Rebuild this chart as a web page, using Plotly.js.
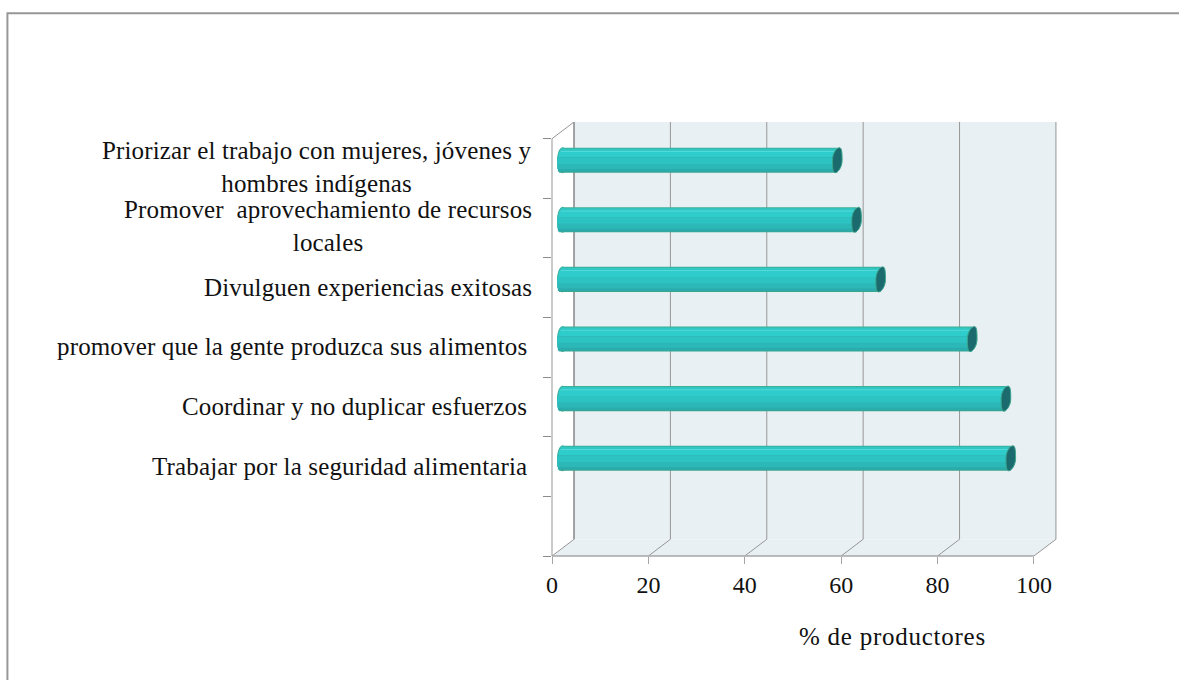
<!DOCTYPE html>
<html><head><meta charset="utf-8">
<script src="https://cdn.plot.ly/plotly-3.0.1.min.js"></script>
<style>html,body{margin:0;padding:0;background:#fff}
.annotation-text{letter-spacing:0.15px}</style></head>
<body><div id="c" style="width:1179px;height:680px"></div>
<script>
var categories = ["Trabajar por la seguridad alimentaria","Coordinar y no duplicar esfuerzos","promover que la gente produzca sus alimentos","Divulguen experiencias exitosas","Promover  aprovechamiento de recursos<br>locales","Priorizar el trabajo con mujeres, jóvenes y<br>hombres indígenas"];
var categoryRows = [1,2,3,4,5,6];
var values = [93,92,85,66,61,57];
var xTicks = [0,20,40,60,80,100];
var xTitle = "% de productores";

var FONT = '"Liberation Serif","Times New Roman",serif';
var W = 1179, H = 680, mL = 552.3, mR = 120.5, mT = 121.7, mB = 124.3;
var pw = W-mL-mR, ph = H-mT-mB;
var depthX = 4.57, depthY = 0.28;
var barMid = 2.2, barShift = 0.14, barH = 0.42, capA = 1.0, leftA = 1.05, capSkew = 0.45;
var yBottom = -0.5, yTop = 6.5;
var GRID = '#969696', WALL = '#e9f0f4';

// cylinder shading, painted outermost band first so neighbouring bands overlap without seams
var stripes = [
 {t:-1.00,b:0,m:-0.96,c:'#3fae97'},
 {t:-0.92,b:0,m:-0.83,c:'#2fc8c4'},
 {t:-0.74,b:0,m:-0.70,c:'#55d8d8'},
 {t:-0.66,b:0,m:-0.43,c:'#2fcccc'},
 {t:-0.20,b:1.00,m:0.96,c:'#3aa58c'},
 {t:-0.20,b:0.93,m:0.81,c:'#2bacac'},
 {t:-0.20,b:0.70,m:0.50,c:'#2db8b8'},
 {t:-0.20,b:0.30,m:0.05,c:'#2ec3c3'}
];

var traces = stripes.map(function(s){
  var inset = leftA*(1-Math.sqrt(Math.max(0,1-s.m*s.m)));
  var left = barMid-leftA+inset-s.m*capSkew;
  return {
    type:'bar', orientation:'h', hoverinfo:'skip', showlegend:false,
    y:categoryRows,
    x:values.map(function(v){return v+barMid-left;}),
    base:values.map(function(){return left;}),
    width:(s.b-s.t)*barH/2,
    offset:barShift-s.b*barH/2,
    marker:{color:s.c,line:{width:0}}
  };
});

var shapes = [];
shapes.push({type:'rect',layer:'below',xref:'x',yref:'y',x0:depthX,x1:100+depthX,y0:yBottom+depthY,y1:yTop+depthY,fillcolor:WALL,line:{width:0}});
shapes.push({type:'path',layer:'below',xref:'x',yref:'y',
  path:'M 0 '+yBottom+' L 100 '+yBottom+' L '+(100+depthX)+' '+(yBottom+depthY)+' L '+depthX+' '+(yBottom+depthY)+' Z',fillcolor:WALL,line:{width:0}});
xTicks.forEach(function(v){
  shapes.push({type:'line',layer:'below',xref:'x',yref:'y',x0:v+depthX,x1:v+depthX,y0:yBottom+depthY,y1:yTop+depthY,line:{color:v===0?'#858585':GRID,width:v===0?1.5:1}});
  shapes.push({type:'line',layer:'below',xref:'x',yref:'y',x0:v,x1:v+depthX,y0:yBottom,y1:yBottom+depthY,line:{color:GRID,width:1}});
});
shapes.push({type:'line',layer:'below',xref:'x',yref:'y',x0:0,x1:depthX,y0:yTop,y1:yTop+depthY,line:{color:GRID,width:1}});
shapes.push({type:'line',layer:'above',xref:'x',yref:'paper',x0:0,x1:100,y0:0,y1:0,line:{color:'#a6a6a6',width:1.5}});
shapes.push({type:'line',layer:'above',xref:'paper',yref:'y',x0:0,x1:0,y0:yBottom,y1:yTop,line:{color:GRID,width:1}});

var fx0 = (7.5-mL)/pw, fx1 = (W+2-mL)/pw, fyT = (H-mB-13)/ph, fyB = (H-mB-H-2)/ph;
shapes.push({type:'path',layer:'above',xref:'paper',yref:'paper',
  path:'M '+fx0+' '+fyB+' L '+fx0+' '+fyT+' L '+fx1+' '+fyT,line:{color:'#979797',width:2}});

values.forEach(function(v,i){
  var yc = categoryRows[i]+barShift, yt = yc+barH/2, yb = yc-barH/2, h = barH*0.28;
  shapes.push({type:'circle',layer:'below',xref:'x',yref:'y',x0:barMid-leftA,x1:barMid+leftA,y0:yb,y1:yt,fillcolor:'#2fc2c0',line:{color:'#3fae97',width:1}});
  var cx = v+barMid, tx = cx+capSkew, bx = cx-capSkew;
  var p = 'M '+tx+' '+yt+
    ' C '+(tx+0.5)+' '+yt+' '+(cx+capA)+' '+(yc+h)+' '+(cx+capA)+' '+yc+
    ' C '+(cx+capA)+' '+(yc-h)+' '+(bx+0.6)+' '+yb+' '+bx+' '+yb+
    ' C '+(bx-0.5)+' '+yb+' '+(cx-capA)+' '+(yc-h)+' '+(cx-capA)+' '+yc+
    ' C '+(cx-capA)+' '+(yc+h)+' '+(tx-0.6)+' '+yt+' '+tx+' '+yt+' Z';
  shapes.push({type:'path',layer:'above',xref:'x',yref:'y',path:p,fillcolor:'#1b6b6e',line:{color:'#3aa58c',width:1}});
});

var annotations = categories.map(function(c,i){
  var twoLine = c.indexOf('<br>')>=0, fourth = c.indexOf('exitosas')>=0;
  return {xref:'paper',yref:'y',x:0,xshift:(twoLine||fourth)?-18.5:-23,yshift:twoLine?2:(fourth?0:0.5),y:categoryRows[i],text:c,showarrow:false,xanchor:'right',yanchor:'middle',align:'center',
    font:{family:FONT,size:25,color:'#111'}};
});
annotations.push({xref:'x',yref:'paper',x:70,xshift:3,y:0,yshift:-80,text:'<span style="letter-spacing:0.75px">'+xTitle+'</span>',showarrow:false,xanchor:'center',yanchor:'middle',font:{family:FONT,size:25,color:'#111'}});

var layout = {
  width:W,height:H,paper_bgcolor:'#fff',plot_bgcolor:'rgba(0,0,0,0)',showlegend:false,
  barmode:'overlay',
  margin:{l:mL,r:mR,t:mT,b:mB,pad:0},
  xaxis:{range:[0,105],autorange:false,tickmode:'array',tickvals:xTicks,ticktext:xTicks.map(String),showgrid:false,zeroline:false,showline:false,
    ticks:'outside',ticklen:7,tickwidth:1,tickcolor:'#a6a6a6',tickfont:{family:FONT,size:24,color:'#111'},fixedrange:true,automargin:false},
  yaxis:{range:[yBottom,yTop+depthY],autorange:false,tickmode:'array',tickvals:[-0.5,0.5,1.5,2.5,3.5,4.5,5.5,6.5],ticktext:['','','','','','','',''],showgrid:false,zeroline:false,
    showline:false,ticks:'outside',ticklen:8,tickwidth:1,tickcolor:'#8c8c8c',fixedrange:true,automargin:false},
  shapes:shapes,annotations:annotations
};
Plotly.newPlot('c',traces,layout,{displayModeBar:false,staticPlot:true});
</script></body></html>
